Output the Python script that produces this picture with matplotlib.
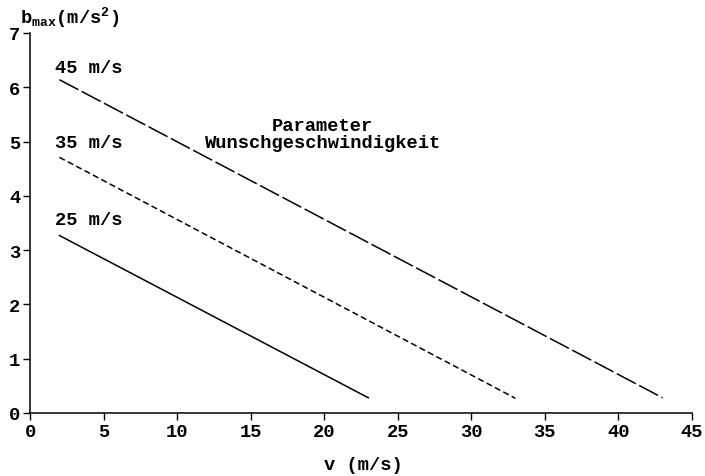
import matplotlib
matplotlib.use("Agg")
import matplotlib.pyplot as plt

# data
v_start = [2, 2, 2]
v_end = [23, 33, 43]
b_start = [3.27, 4.71, 6.14]
b_end = [0.28, 0.27, 0.28]
labels = ["25 m/s", "35 m/s", "45 m/s"]
label_y = [3.57, 4.99, 6.37]
xticks = [0, 5, 10, 15, 20, 25, 30, 35, 40, 45]
yticks = [0, 1, 2, 3, 4, 5, 6, 7]

FONT = 'Liberation Mono'
plt.rcParams['font.family'] = [FONT, 'DejaVu Sans Mono']
plt.rcParams['font.weight'] = 'bold'
plt.rcParams['mathtext.fontset'] = 'custom'
plt.rcParams['mathtext.rm'] = FONT + ':bold'
plt.rcParams['mathtext.bf'] = FONT + ':bold'
plt.rcParams['mathtext.it'] = FONT + ':bold'

FS = 13.5
fig = plt.figure(figsize=(7.05, 4.77), dpi=100)
ax = fig.add_axes([30/705, 1-414/477, (692-30)/705, (414-34)/477])

styles = ['-', (0, (4, 2.2)), (0, (14, 2.5))]
for i in range(3):
    ax.plot([v_start[i], v_end[i]], [b_start[i], b_end[i]], color='black',
            lw=1.1, linestyle=styles[i])
    ax.text(1.7, label_y[i], labels[i], fontsize=FS, ha='left', va='center')

ax.text(19.9, 5.3, "Parameter", fontsize=FS, ha='center', va='center')
ax.text(19.9, 4.99, "Wunschgeschwindigkeit", fontsize=FS, ha='center', va='center')

ax.set_xlim(0, 45)
ax.set_ylim(0, 7)
ax.set_xticks(xticks)
ax.set_yticks(yticks)
ax.tick_params(direction='out', length=5, width=1, labelsize=FS, pad=2)
for s in ['top', 'right']:
    ax.spines[s].set_visible(False)
for s in ['left', 'bottom']:
    ax.spines[s].set_linewidth(1.1)

fig.text(20/705, 1-18/477, r'b$_{\mathbf{max}}$(m/s$^{2}$)', fontsize=FS, ha='left', va='center')
fig.text(363/705, 1-466/477, 'v (m/s)', fontsize=FS, ha='center', va='center')

fig.savefig('out.png', dpi=100)
